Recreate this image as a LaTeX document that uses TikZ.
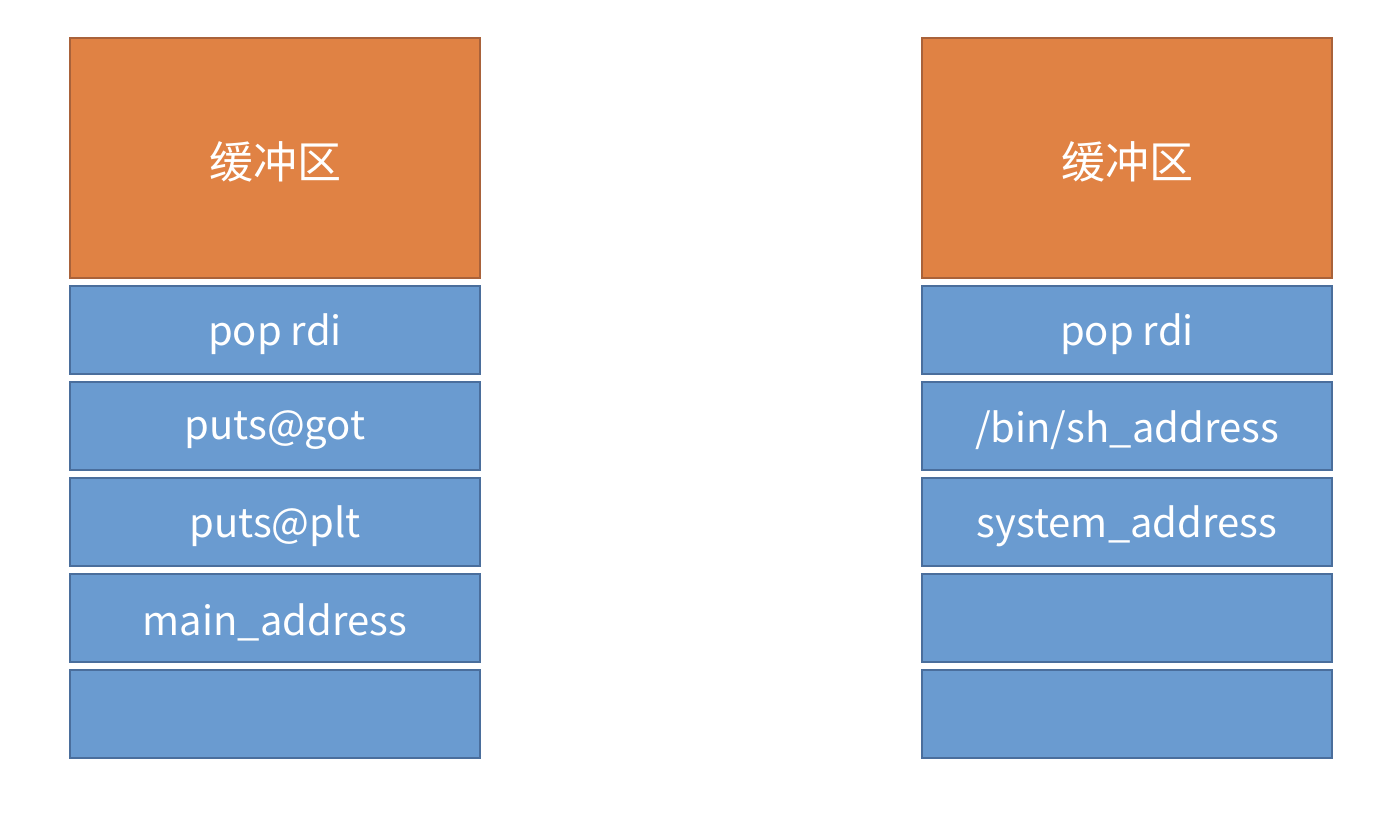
\documentclass[tikz,border=0pt]{standalone}
\usepackage{fontspec}
\setmainfont{Noto Sans CJK SC}
\definecolor{orfill}{HTML}{E08244}
\definecolor{ordraw}{HTML}{A9623A}
\definecolor{blfill}{HTML}{6A9BD0}
\definecolor{bldraw}{HTML}{4A6E9C}
\newcommand{\lowtxt}[1]{\raisebox{-4pt}[\height][\depth]{#1}}
\tikzset{
  buf/.style={draw=ordraw, fill=orfill, line width=1.5pt, minimum width=410pt, minimum height=240pt, inner sep=0pt, text=white, font=\fontsize{44}{52}\selectfont},
  slot/.style={draw=bldraw, fill=blfill, line width=1.5pt, minimum width=410pt, minimum height=88pt, inner sep=0pt, text=white, font=\fontsize{40}{48}\selectfont},
}
\begin{document}
\begin{tikzpicture}[x=1pt,y=-1pt]
\useasboundingbox (0,0) rectangle (1378,814);
% left column
\node[buf] (lbuf) at (275,158) {\lowtxt{缓冲区}};
\node[slot] (l1) at (275,330) {\lowtxt{pop rdi}};
\node[slot] (l2) at (275,426) {\lowtxt{puts@got}};
\node[slot] (l3) at (275,522) {\lowtxt{puts@plt}};
\node[slot] (l4) at (275,618) {\lowtxt{main\_address}};
\node[slot] (l5) at (275,714) {};
% right column
\node[buf] (rbuf) at (1127,158) {\lowtxt{缓冲区}};
\node[slot] (r1) at (1127,330) {\lowtxt{pop rdi}};
\node[slot] (r2) at (1127,426) {\lowtxt{/bin/sh\_address}};
\node[slot] (r3) at (1127,522) {\lowtxt{system\_address}};
\node[slot] (r4) at (1127,618) {};
\node[slot] (r5) at (1127,714) {};
\end{tikzpicture}
\end{document}
